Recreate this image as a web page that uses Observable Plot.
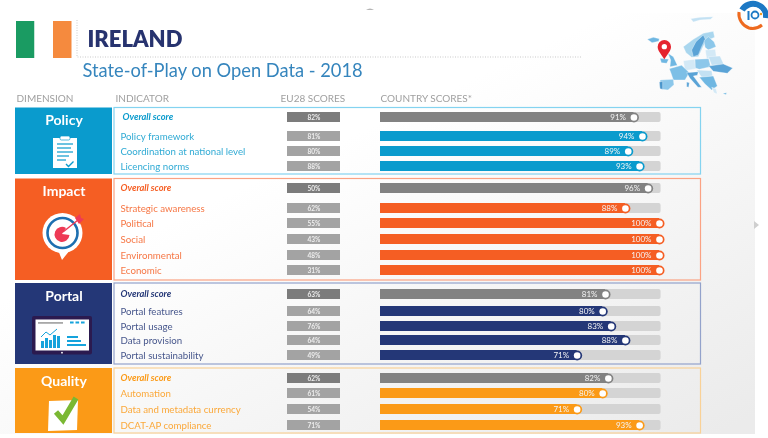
<!DOCTYPE html>
<html>
<head>
<meta charset="utf-8">
<script src="https://cdn.jsdelivr.net/npm/d3@7"></script>
<script src="https://cdn.jsdelivr.net/npm/@observablehq/plot@0.6"></script>
<style>
html,body{margin:0;padding:0;background:#fff;overflow:hidden}
#chart svg{display:block;filter:blur(.45px)}
</style>
</head>
<body>
<div id="chart"></div>
<script>
// ---- data ----
const headers = ["DIMENSION", "INDICATOR", "EU28 SCORES", "COUNTRY SCORES*"];
const policyLabels = ["Overall score", "Policy framework", "Coordination at national level", "Licencing norms"];
const policyEU = [82, 81, 80, 88];
const policyIE = [91, 94, 89, 93];
const impactLabels = ["Overall score", "Strategic awareness", "Political", "Social", "Environmental", "Economic"];
const impactEU = [50, 62, 55, 43, 48, 31];
const impactIE = [96, 88, 100, 100, 100, 100];
const portalLabels = ["Overall score", "Portal features", "Portal usage", "Data provision", "Portal sustainability"];
const portalEU = [63, 64, 76, 64, 49];
const portalIE = [81, 80, 83, 88, 71];
const qualityLabels = ["Overall score", "Automation", "Data and metadata currency", "DCAT-AP compliance"];
const qualityEU = [62, 61, 54, 71];
const qualityIE = [82, 80, 71, 93];

// ---- layout (not data) ----
const W = 768, H = 438;
const rowsY = {
  Policy: [117, 136, 151, 166],
  Impact: [188, 208, 223, 239, 255, 270],
  Portal: [294, 311, 326, 340, 355],
  Quality: [378, 393, 409, 425]
};
const groups = [
  {name: "Policy", labels: policyLabels, eu: policyEU, ie: policyIE, color: "#0a9bcd", line: "#84d3f0", top: 107.5, bottom: 174, titleY: 120.5},
  {name: "Impact", labels: impactLabels, eu: impactEU, ie: impactIE, color: "#f55e23", line: "#fba283", top: 178.5, bottom: 280, titleY: 191.5},
  {name: "Portal", labels: portalLabels, eu: portalEU, ie: portalIE, color: "#243777", line: "#93a2cb", top: 283, bottom: 364, titleY: 296.5},
  {name: "Quality", labels: qualityLabels, eu: qualityEU, ie: qualityIE, color: "#fb9a17", line: "#f9d197", top: 368, bottom: 433, titleY: 381}
];
const rows = groups.flatMap(g => g.labels.map((label, i) => ({
  group: g.name, label, overall: i === 0, eu: g.eu[i], ie: g.ie[i],
  y: rowsY[g.name][i], color: g.color
})));
const font = "Lato, 'Open Sans', sans-serif";
const trackEnd = 98.8;
const xRange = [380, 664];
const toX = px => (px - xRange[0]) / (xRange[1] - xRange[0]) * 100; // place fixed EU28 chips in the x scale's frame

function svgEl(parent, tag, attrs, text) {
  const el = parent.append(tag);
  for (const k in attrs) el.attr(k, attrs[k]);
  if (text) el.text(text);
  return el;
}

function backdrop() {
  const g = d3.create("svg:g");
  const defs = g.append("defs");
  const lg = defs.append("linearGradient").attr("id", "slide").attr("x1", 0.1).attr("y1", 0).attr("x2", 0.95).attr("y2", 1);
  lg.append("stop").attr("offset", "0.35").attr("stop-color", "#ffffff");
  lg.append("stop").attr("offset", "1").attr("stop-color", "#ebebeb");
  svgEl(g, "rect", {x: 0, y: 13, width: 755, height: 421, fill: "url(#slide)"});
  svgEl(g, "path", {d: "M366,10q4,-3 8,0z", fill: "#b5b5b5"});
  svgEl(g, "path", {d: "M754,221l5,4l-5,4z", fill: "#cfcfcf"});
  // flag
  svgEl(g, "rect", {x: 16, y: 21, width: 18.5, height: 37, fill: "#1a9b62"});
  svgEl(g, "rect", {x: 34.5, y: 21, width: 18.5, height: 37, fill: "#ffffff"});
  svgEl(g, "rect", {x: 53, y: 21, width: 18.5, height: 37, fill: "#f58a3e"});
  svgEl(g, "path", {d: "M77,20V57H582", fill: "none", stroke: "#c9c9c9", "stroke-width": 1, "stroke-dasharray": "1 1.5"});
  // panels
  for (const p of groups) {
    svgEl(g, "rect", {x: 15, y: p.top, width: 97, height: p.bottom - p.top, fill: p.color});
    svgEl(g, "rect", {x: 114, y: p.top, width: 586.5, height: p.bottom - p.top, fill: "none", stroke: p.line, "stroke-width": 1.2});
  }
  // clipboard
  svgEl(g, "rect", {x: 53, y: 138, width: 24, height: 30, fill: "#fff"});
  svgEl(g, "rect", {x: 60, y: 136, width: 10, height: 4, rx: 1.5, fill: "#fff", stroke: "#0a9bcd", "stroke-width": .7});
  for (const [y, x2] of [[144, 73], [148, 71], [152, 73], [156, 69], [160, 66]])
    svgEl(g, "line", {x1: 57, x2, y1: y, y2: y, stroke: "#0a9bcd", "stroke-width": 1.2});
  svgEl(g, "path", {d: "M66,164l2.5,2.5l5,-5", fill: "none", stroke: "#0a9bcd", "stroke-width": 1.4});
  // target
  svgEl(g, "path", {d: "M58,250 L62,260 L70,250z", fill: "#fff"});
  svgEl(g, "circle", {cx: 62.5, cy: 233, r: 20, fill: "#fff"});
  svgEl(g, "circle", {cx: 62.5, cy: 233, r: 15, fill: "#fff", stroke: "#1d6fb0", "stroke-width": 2.6});
  svgEl(g, "path", {d: "M66,228 A7.5,7.5 0 1 0 69.5,235 L62,234z", fill: "#ee3a56"});
  svgEl(g, "line", {x1: 63, y1: 232, x2: 78, y2: 220, stroke: "#ee3a56", "stroke-width": 1.5});
  svgEl(g, "path", {d: "M75,218 L80,214 L81,218 L84,219 L79,224z", fill: "#ee3a56"});
  // screen
  svgEl(g, "rect", {x: 32, y: 316, width: 60, height: 38.5, rx: 2, fill: "#2b1a4f"});
  svgEl(g, "rect", {x: 35.5, y: 319.5, width: 53.5, height: 31, fill: "#fff"});
  svgEl(g, "circle", {cx: 62, cy: 352.7, r: .9, fill: "#fff"});
  svgEl(g, "rect", {x: 38, y: 322, width: 25, height: 1.8, fill: "#a8a8a8"});
  for (const x of [70, 75.5, 81]) svgEl(g, "rect", {x, y: 321.5, width: 3.6, height: 2, fill: "#15a3dc"});
  for (const [x, y] of [[41, 341], [45, 338], [49, 340], [53, 335], [57, 336]])
    svgEl(g, "rect", {x, y, width: 3, height: 348 - y, fill: "#15a3dc"});
  svgEl(g, "path", {d: "M41,337l5,-5l4,3l7,-6", fill: "none", stroke: "#15a3dc", "stroke-width": 1});
  for (const [y, x2] of [[336, 78], [340, 81], [344, 86]])
    svgEl(g, "rect", {x: 67, y, width: x2 - 67, height: 2, fill: "#15a3dc"});
  // checkbox
  svgEl(g, "path", {d: "M49,401 L78,400 L77,430 L48,431z", fill: "#fff"});
  svgEl(g, "path", {d: "M56,412 L63,420 L76,398", fill: "none", stroke: "#7ab833", "stroke-width": 5.5});
  // map: rough shapes (drawn in 3x units)
  const m = g.append("g").attr("transform", "translate(640,0) scale(0.3333)");
  const shapes = [
    ["#c3e1f3", "M152,56 L180,52 L220,50 L212,58 L180,60 L160,66z"],
    ["#6fb7e2", "M22,118 L40,112 L58,116 L56,124 L36,128z"],
    ["#a9d6ee", "M130,140 L160,118 L190,100 L220,94 L224,112 L200,122 L190,138 L175,170 L155,172 L138,158z"],
    ["#5aa3d6", "M155,150 L168,125 L190,105 L196,118 L185,140 L175,165 L160,170z"],
    ["#8cc7ea", "M192,122 L205,110 L222,125 L228,140 L205,150 L195,142z"],
    ["#d3e9f6", "M196,150 L226,148 L230,178 L200,176z"],
    ["#6fb7e2", "M84,160 L100,170 L112,196 L90,200 L92,180z"],
    ["#d3e9f6", "M130,182 L165,178 L168,206 L135,212z"],
    ["#8cc7ea", "M165,178 L206,176 L212,200 L178,208 L166,204z"],
    ["#c3e1f3", "M205,170 L240,168 L252,194 L215,196z"],
    ["#5aa3d6", "M206,198 L250,192 L278,204 L262,220 L220,214z"],
    ["#7dbfe6", "M88,206 L125,196 L148,218 L135,240 L100,240 L94,222z"],
    ["#8cc7ea", "M60,240 L100,238 L102,254 L84,270 L64,268z"],
    ["#4a95cb", "M58,246 L68,244 L68,268 L60,266z"],
    ["#5aa3d6", "M140,218 L175,215 L172,226 L160,228 L185,262 L174,262 L150,235z"],
    ["#c3e1f3", "M170,210 L215,212 L218,228 L185,232z"],
    ["#6fb7e2", "M178,232 L220,228 L232,258 L215,270 L195,252z"],
    ["#d3e9f6", "M215,262 L228,266 L232,282 L222,278z"],
    ["#5aa3d6", "M140,246 L148,248 L146,262 L140,260z"],
    ["#6fb7e2", "M248,280 L260,278 L258,284z"],
    ["#6fb7e2", "M60,175 L86,178 L80,190 L64,188z"]
  ];
  for (const [fill, d] of shapes) svgEl(m, "path", {d, fill, stroke: "#fff", "stroke-width": 1, "stroke-linejoin": "round"});
  svgEl(m, "path", {d: "M73,178 C62,160 53,152 53,140 A20,20 0 0 1 93,140 C93,152 84,160 73,178z", fill: "#e5232e"});
  svgEl(m, "circle", {cx: 73, cy: 140, r: 8, fill: "#fff"});
  // logo
  svgEl(g, "path", {d: "M742,10 A13,13 0 0 1 766,18", fill: "none", stroke: "#1c78c4", "stroke-width": 6});
  svgEl(g, "path", {d: "M739,12 A15,15 0 0 0 749,28 A15,15 0 0 0 762,25", fill: "none", stroke: "#ee6a1f", "stroke-width": 3});
  svgEl(g, "circle", {cx: 754, cy: 16, r: 9, fill: "#fff"});
  svgEl(g, "rect", {x: 747.5, y: 11, width: 2, height: 9, fill: "#1c78c4"});
  svgEl(g, "circle", {cx: 755, cy: 15, r: 3.5, fill: "none", stroke: "#1c78c4", "stroke-width": 1.8});
  svgEl(g, "circle", {cx: 761, cy: 14, r: 1.2, fill: "#f59b1c"});
  return g.node();
}

const chipY1 = d => d.y - 5, chipY2 = d => d.y + 5;
const headerY = () => 98.5;
const chart = Plot.plot({
  width: W, height: H, margin: 0,
  style: {background: "transparent", fontFamily: font},
  x: {domain: [0, 100], range: xRange, axis: null},
  y: {domain: [0, H], range: [0, H], axis: null},
  color: {type: "identity"},
  marks: [
    backdrop,
    // title block
    Plot.text(["IRELAND"], {frameAnchor: "left", dx: 87, y: () => 39.5, fontSize: 22, fontWeight: 800, fill: "#27336f", text: d => d}),
    Plot.text(["State-of-Play on Open Data - 2018"], {frameAnchor: "left", dx: 82, y: () => 71, fontSize: 18.3, fill: "#3585bd", text: d => d}),
    Plot.text([headers[0]], {frameAnchor: "left", dx: 16, y: headerY, fontSize: 10, fill: "#a0a0a0", text: d => d}),
    Plot.text([headers[1]], {frameAnchor: "left", dx: 115, y: headerY, fontSize: 10, fill: "#a0a0a0", text: d => d}),
    Plot.text([headers[2]], {frameAnchor: "left", dx: 280, y: headerY, fontSize: 10, fill: "#a0a0a0", text: d => d}),
    Plot.text([headers[3]], {frameAnchor: "left", dx: 380, y: headerY, fontSize: 10, fill: "#a0a0a0", text: d => d}),
    // dimension titles
    Plot.text(groups, {frameAnchor: "left", dx: 63.5, textAnchor: "middle", y: "titleY", text: "name", fontSize: 14, fontWeight: 700, fill: "#fff"}),
    // indicator labels
    Plot.text(rows.filter(d => !d.overall), {frameAnchor: "left", dx: 120, y: "y", text: "label", fontSize: 9.7, fill: "color", fillOpacity: 0.85}),
    Plot.text(rows.filter(d => d.overall && d.group === "Policy"), {frameAnchor: "left", dx: 122, y: "y", text: "label", fontSize: 9.3, fontWeight: 700, fontStyle: "italic", fill: "color"}),
    Plot.text(rows.filter(d => d.overall && d.group !== "Policy"), {frameAnchor: "left", dx: 120, y: "y", text: "label", fontSize: 9.3, fontWeight: 700, fontStyle: "italic", fill: "color"}),
    // EU28 chips
    Plot.rect(rows, {x1: () => toX(287), x2: () => toX(340), y1: chipY1, y2: chipY2, fill: d => d.overall ? "#7c7c7c" : "#a3a3a3"}),
    Plot.text(rows, {frameAnchor: "left", dx: 313.5, textAnchor: "middle", y: "y", text: d => d.eu + "%", fontSize: 6.5, fontWeight: 700, fill: "#eeeeee"}),
    // country score bars
    Plot.rect(rows, {x1: 0, x2: () => trackEnd, y1: chipY1, y2: chipY2, fill: "#d4d4d4", rx: 2}),
    Plot.rect(rows, {x1: 0, x2: "ie", insetRight: 5, y1: chipY1, y2: chipY2, fill: d => d.overall ? "#828282" : d.color}),
    Plot.dot(rows, {x: "ie", y: "y", dx: -5, r: 5, fill: d => d.overall ? "#828282" : d.color, stroke: "none"}),
    Plot.dot(rows, {x: "ie", y: "y", dx: -5, r: 3.3, fill: "#fff", stroke: "none"}),
    Plot.text(rows, {x: "ie", y: "y", dx: -13, textAnchor: "end", text: d => d.ie + "%", fontSize: 8, fill: "#f4f4f4"})
  ]
});
document.getElementById("chart").append(chart);
</script>
</body>
</html>
